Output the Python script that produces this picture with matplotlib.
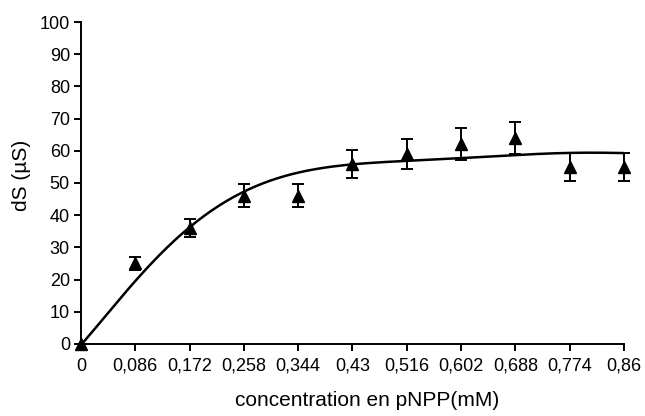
import matplotlib.pyplot as plt
import numpy as np

# données
concentrations = [0, 0.086, 0.172, 0.258, 0.344, 0.43, 0.516, 0.602, 0.688, 0.774, 0.86]
etiquettes_x = ["0", "0,086", "0,172", "0,258", "0,344", "0,43", "0,516",
                "0,602", "0,688", "0,774", "0,86"]
ds_mesure = [0, 25, 36, 46, 46, 56, 59, 62, 64, 55, 55]
ds_erreur = [0, 2, 2.8, 3.6, 3.6, 4.3, 4.7, 5, 5, 4.4, 4.4]

# courbe d'ajustement
x_ajuste = [0, 0.03, 0.087, 0.173, 0.215, 0.258, 0.344, 0.43, 0.516, 0.602, 0.688, 0.774, 0.86]
ds_ajuste = [0, 5.9, 20.5, 36, 42.6, 47.3, 53.3, 55.8, 56.9, 57.6, 58.8, 59.3, 59.3]

plt.rcParams["font.family"] = ["Liberation Sans", "DejaVu Sans"]

fig = plt.figure(figsize=(6.45, 4.16), dpi=100)
ax = fig.add_axes([0.1256, 0.1731, 0.8418, 0.774])

coef = np.polyfit(x_ajuste, ds_ajuste, 6)
x_courbe = np.linspace(0, 0.86, 300)
ax.plot(x_courbe, np.polyval(coef, x_courbe), color="black", lw=1.8, zorder=2)

ax.errorbar(concentrations, ds_mesure, yerr=ds_erreur, fmt="^", color="black",
            markersize=8.5, ecolor="black", elinewidth=1.4, capsize=4.3, capthick=1.4,
            zorder=3, clip_on=False)

ax.set_xlim(0, 0.86)
ax.set_ylim(0, 100)
ax.set_xticks(concentrations)
ax.set_xticklabels(etiquettes_x)
ax.set_yticks(range(0, 101, 10))

for cote in ["top", "right"]:
    ax.spines[cote].set_visible(False)
for cote in ["left", "bottom"]:
    ax.spines[cote].set_linewidth(1.4)

ax.tick_params(axis="both", direction="out", length=5, width=1.4,
               labelsize=13, colors="black", pad=3)
ax.tick_params(axis="x", pad=5)
ax.set_xlabel("concentration en pNPP(mM)", fontsize=15)
ax.set_ylabel("dS (µS)", fontsize=15)
ax.xaxis.set_label_coords(0.527, -0.145)
ax.yaxis.set_label_coords(-0.092, 0.525)

fig.savefig("out.png", dpi=100)
